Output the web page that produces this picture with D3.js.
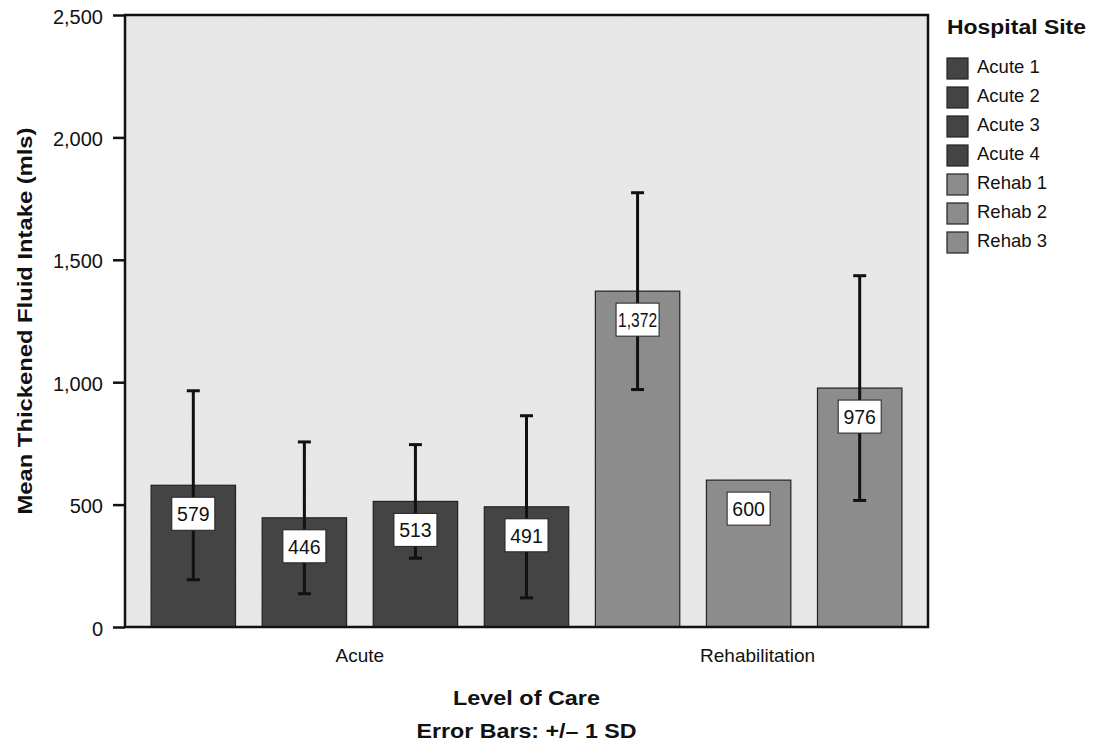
<!DOCTYPE html>
<html>
<head>
<meta charset="utf-8">
<script src="https://cdn.jsdelivr.net/npm/d3@7"></script>
<style>
  body { margin: 0; background: #fff; }
  svg { font-family: "Liberation Sans", Arial, Helvetica, sans-serif; }
  .bold { font-weight: bold; }
</style>
</head>
<body>
<div id="chart"></div>
<script>
// hospital sites, grouped by level of care
var sites = ["Acute 1", "Acute 2", "Acute 3", "Acute 4", "Rehab 1", "Rehab 2", "Rehab 3"];
var careLevel = ["Acute", "Acute", "Acute", "Acute", "Rehabilitation", "Rehabilitation", "Rehabilitation"];
var levels = ["Acute", "Rehabilitation"];
var means = [579, 446, 513, 491, 1372, 600, 976];
var sds = [386, 310, 232, 372, 402, null, 459];   // Rehab 2 has no error bar
var yTicks = [0, 500, 1000, 1500, 2000, 2500];

var width = 1093, height = 744;
var margin = {left: 125, right: 165, top: 15, bottom: 117};
var colorScale = d3.scaleOrdinal().domain(levels).range(["#444444", "#8c8c8c"]);

var svg = d3.select("#chart").append("svg")
    .attr("width", width)
    .attr("height", height);

var plotW = width - margin.left - margin.right;
var plotH = height - margin.top - margin.bottom;

var x = d3.scaleBand().domain(sites).range([0, plotW]).paddingInner(0.24).paddingOuter(0.235);
var y = d3.scaleLinear().domain([0, 2500]).range([plotH, 0]);

var chartGroup = svg.append("g")
    .attr("transform", "translate(" + margin.left + "," + margin.top + ")");

// speckled grey background
var defs = svg.append("defs");
var f = defs.append("filter").attr("id", "grain").attr("x", 0).attr("y", 0).attr("width", 1).attr("height", 1);
f.append("feTurbulence").attr("type", "fractalNoise").attr("baseFrequency", 1.3).attr("numOctaves", 1).attr("result", "n");
f.append("feColorMatrix").attr("in", "n").attr("type", "matrix")
    .attr("values", "0 0 0 0 0.55  0 0 0 0 0.55  0 0 0 0 0.55  0 0 0 0.2 0").attr("result", "g");
f.append("feComposite").attr("in", "g").attr("in2", "SourceGraphic").attr("operator", "in").attr("result", "g2");
f.append("feMerge").selectAll("feMergeNode").data(["SourceGraphic", "g2"]).enter()
    .append("feMergeNode").attr("in", function(d) { return d; });

chartGroup.append("rect")
    .attr("width", plotW).attr("height", plotH)
    .attr("fill", "#ebebeb")
    .attr("filter", "url(#grain)");

// bars
var bars = chartGroup.selectAll("g.bar").data(sites).enter()
    .append("g").attr("class", "bar");

bars.append("rect")
    .attr("x", function(d) { return x(d); })
    .attr("y", function(d, i) { return y(means[i]); })
    .attr("width", x.bandwidth())
    .attr("height", function(d, i) { return plotH - y(means[i]); })
    .attr("fill", function(d, i) { return colorScale(careLevel[i]); })
    .attr("stroke", "#222")
    .attr("stroke-width", 1.2);

// error bars
var cap = 6.5;
bars.each(function(d, i) {
    if (sds[i] == null) return;
    var g = d3.select(this);
    var cx = x(d) + x.bandwidth() / 2;
    var hi = y(means[i] + sds[i]), lo = y(means[i] - sds[i]);
    g.append("line").attr("x1", cx).attr("x2", cx).attr("y1", hi).attr("y2", lo)
        .attr("stroke", "#111").attr("stroke-width", 3);
    g.append("line").attr("x1", cx - cap).attr("x2", cx + cap).attr("y1", hi).attr("y2", hi)
        .attr("stroke", "#111").attr("stroke-width", 3);
    g.append("line").attr("x1", cx - cap).attr("x2", cx + cap).attr("y1", lo).attr("y2", lo)
        .attr("stroke", "#111").attr("stroke-width", 3);
});

// value labels
var fmt = d3.format(",");
bars.append("rect")
    .attr("x", function(d) { return x(d) + x.bandwidth() / 2 - 21.5; })
    .attr("y", function(d, i) { return y(means[i]) + 12; })
    .attr("width", 43).attr("height", 33)
    .attr("fill", "#fff").attr("stroke", "#222").attr("stroke-width", 1);
bars.append("text")
    .attr("x", function(d) { return x(d) + x.bandwidth() / 2; })
    .attr("y", function(d, i) { return y(means[i]) + 36; })
    .attr("text-anchor", "middle")
    .attr("font-size", 19.5)
    .attr("fill", "#111")
    .each(function(d, i) {
        if (means[i] >= 1000) d3.select(this).attr("textLength", 39).attr("lengthAdjust", "spacingAndGlyphs");
    })
    .text(function(d, i) { return fmt(means[i]); });

// frame
chartGroup.append("rect")
    .attr("width", plotW).attr("height", plotH)
    .attr("fill", "none").attr("stroke", "#111").attr("stroke-width", 2.5);

// y axis
var yAxis = chartGroup.append("g")
    .attr("class", "axis y")
    .call(d3.axisLeft(y).tickValues(yTicks).tickFormat(d3.format(",")).tickSize(12).tickPadding(10));
yAxis.select(".domain").remove();
yAxis.selectAll(".tick line").attr("stroke", "#111").attr("stroke-width", 2.5);
yAxis.selectAll("text").attr("font-size", 20).attr("fill", "#111").attr("dy", "0.4em");

// level-of-care labels
levels.forEach(function(lv) {
    var cs = sites.filter(function(s, i) { return careLevel[i] === lv; })
        .map(function(s) { return x(s) + x.bandwidth() / 2; });
    chartGroup.append("text")
        .attr("x", d3.mean(cs) + (lv === "Rehabilitation" ? 9 : 0))
        .attr("y", plotH + 35)
        .attr("text-anchor", "middle")
        .attr("font-size", 19).attr("fill", "#111")
        .text(lv);
});

// bold titles, stretched a little wider like the original
function boldText(parent, txt, len, size) {
    return parent.append("text")
        .attr("class", "bold")
        .attr("text-anchor", "middle")
        .attr("font-size", size).attr("fill", "#111")
        .attr("textLength", len).attr("lengthAdjust", "spacingAndGlyphs")
        .text(txt);
}

boldText(chartGroup, "Mean Thickened Fluid Intake (mls)", 387, 21)
    .attr("transform", "translate(" + (-93) + "," + (plotH / 2) + ") rotate(-90)");
boldText(chartGroup, "Level of Care", 147, 19.5)
    .attr("x", plotW / 2).attr("y", plotH + 78);
boldText(chartGroup, "Error Bars: +/\u2013 1 SD", 220, 19.5)
    .attr("x", plotW / 2).attr("y", plotH + 111);

// legend
var legend = svg.append("g").attr("transform", "translate(947,0)");
boldText(legend, "Hospital Site", 139, 20)
    .attr("text-anchor", "start")
    .attr("x", 0).attr("y", 34);
var items = legend.selectAll("g.item").data(sites).enter()
    .append("g").attr("class", "item")
    .attr("transform", function(d, i) { return "translate(0," + (58 + i * 29) + ")"; });
items.append("rect")
    .attr("width", 21).attr("height", 21)
    .attr("fill", function(d, i) { return colorScale(careLevel[i]); })
    .attr("stroke", "#222").attr("stroke-width", 1.2);
items.append("text")
    .attr("x", 30).attr("y", 15)
    .attr("font-size", 18.5).attr("fill", "#111")
    .text(function(d) { return d; });
</script>
</body>
</html>
